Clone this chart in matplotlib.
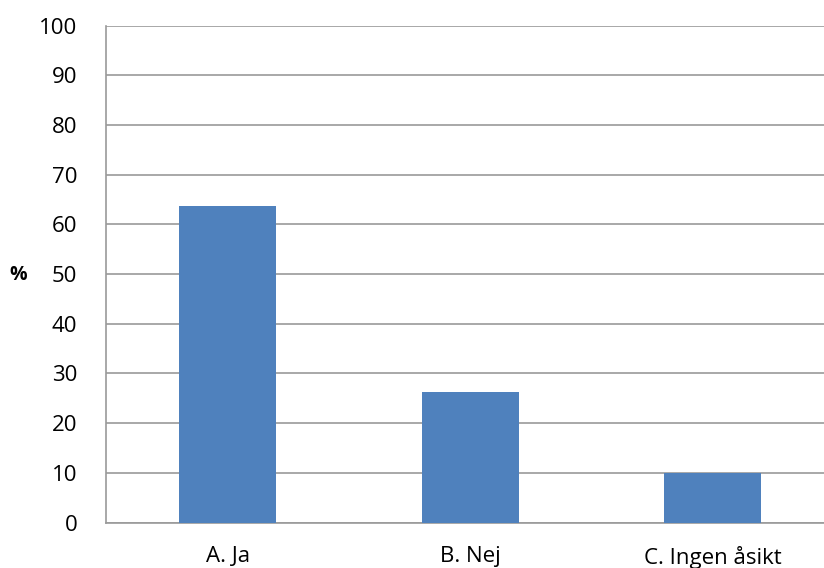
import numpy as np
import matplotlib.pyplot as plt

plt.rcParams['font.family'] = ['Open Sans', 'DejaVu Sans']

svar = ['A. Ja', 'B. Nej', 'C. Ingen åsikt']
andel = [63.7, 26.2, 10.0]
yticks = [0, 10, 20, 30, 40, 50, 60, 70, 80, 90, 100]

fig = plt.figure(figsize=(8.24, 5.68), dpi=100)
ax = fig.add_axes([0.1292, 0.0801, 0.883, 0.875])

x = np.arange(len(svar))
ax.bar(x, andel, width=0.4, color='#4F81BD', zorder=3)

ax.set_xlim(-0.5, 2.5)
ax.set_ylim(0, 100)
ax.set_yticks(yticks)
ax.set_xticks(x)
ax.set_xticklabels(svar)
ax.tick_params(axis='both', length=0, labelsize=16, colors='black')
ax.tick_params(axis='y', pad=21)
ax.tick_params(axis='x', pad=17)

ax.grid(axis='y', color='#9a9a9a', linewidth=1.2, zorder=0)
for side in ['top', 'right']:
    ax.spines[side].set_visible(False)
for side in ['left', 'bottom']:
    ax.spines[side].set_color('#9a9a9a')
    ax.spines[side].set_linewidth(1.2)

# y-axis unit, placed to the left of the tick labels
fig.text(18 / 824, 1 - 275 / 568, '%', fontsize=14, fontweight='bold',
         ha='center', va='center')

fig.savefig('out.png', dpi=100)
